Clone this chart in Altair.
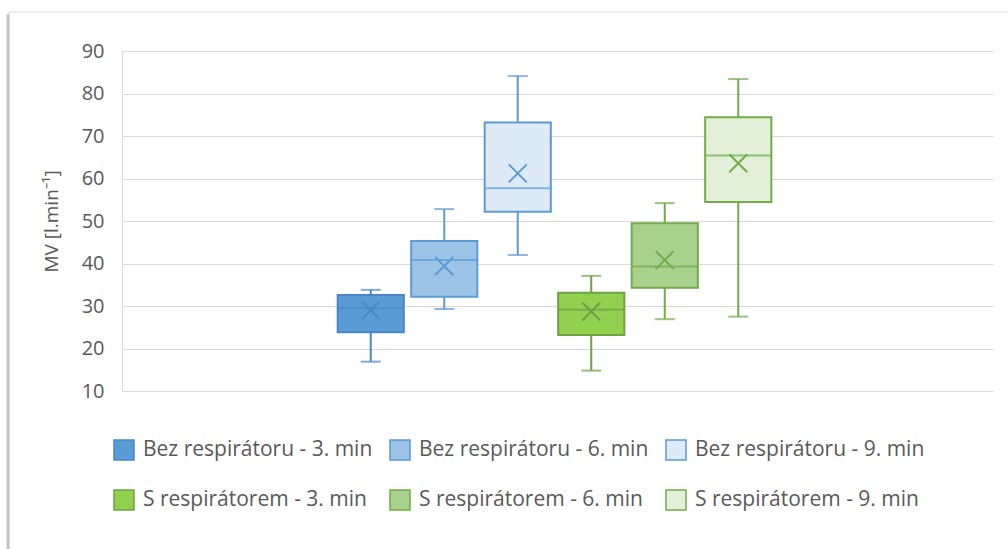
import altair as alt
import pandas as pd

# Series (box plots) and their summary statistics, MV in l/min
groups = [
    "Bez respirátoru - 3. min",
    "Bez respirátoru - 6. min",
    "Bez respirátoru - 9. min",
    "S respirátorem - 3. min",
    "S respirátorem - 6. min",
    "S respirátorem - 9. min",
]
whisker_low = [16.9, 29.3, 42.0, 14.8, 26.9, 27.5]
quart1 = [23.8, 32.2, 52.2, 23.2, 34.3, 54.5]
medians = [29.5, 40.8, 57.7, 29.1, 39.3, 65.4]
quart3 = [32.6, 45.3, 73.2, 33.1, 49.5, 74.4]
whisker_high = [33.8, 52.8, 84.1, 37.1, 54.2, 83.4]
means = [29.0, 39.4, 61.2, 28.7, 40.8, 63.6]

fills = ["#5B9BD5", "#9DC3E6", "#DEEBF7", "#92D050", "#A9D18E", "#E2F0D9"]
edges = ["#4A87C6", "#5B9BD5", "#5B9BD5", "#6FA145", "#70AD47", "#70AD47"]

y_ticks = [10, 20, 30, 40, 50, 60, 70, 80, 90]

FONT = "Open Sans"
TEXT = "#595959"

df = pd.DataFrame({
    "cat": [""] * len(groups),
    "group": groups,
    "lo": whisker_low,
    "q1": quart1,
    "med": medians,
    "q3": quart3,
    "hi": whisker_high,
    "mean": means,
    "edge": edges,
})

# One (unlabelled) category spanning the whole plot; the six boxes are
# clustered in its middle through the x-offset scale.
x_enc = alt.X("cat:N", axis=None, scale=alt.Scale(paddingInner=0, paddingOuter=0))
xo_enc = alt.XOffset(
    "group:N",
    sort=groups,
    scale=alt.Scale(domain=groups, range=[212, 653], paddingInner=0.1, paddingOuter=0.05),
)
y_scale = alt.Scale(domain=[10, 90], nice=False, zero=False)
y_axis = alt.Axis(
    values=y_ticks,
    title="MV [l.min⁻¹]",
    titleFont=FONT,
    titleFontSize=19,
    titleFontWeight="normal",
    titleColor=TEXT,
    titlePadding=20,
    labelFont=FONT,
    labelFontSize=20,
    labelColor=TEXT,
    labelPadding=18,
    ticks=False,
    domain=True,
    domainColor="#d9d9d9",
    grid=True,
    gridColor="#d9d9d9",
    gridWidth=1,
)

legend = alt.Legend(
    title=None,
    orient="none",
    direction="horizontal",
    legendX=-9,
    legendY=388,
    columns=3,
    columnPadding=14,
    rowPadding=24,
    symbolType="square",
    symbolSize=400,
    symbolStrokeWidth=1.5,
    labelFont=FONT,
    labelFontSize=21,
    labelColor=TEXT,
    labelOffset=8,
    labelLimit=400,
)

base = alt.Chart(df)

whisker = base.mark_rule(strokeWidth=2).encode(
    x=x_enc,
    xOffset=xo_enc,
    y=alt.Y("lo:Q", scale=y_scale, axis=y_axis),
    y2="hi:Q",
    stroke=alt.Stroke("edge:N", scale=None),
)

cap_low = base.mark_tick(size=20, thickness=2).encode(
    x=x_enc,
    xOffset=xo_enc,
    y=alt.Y("lo:Q", scale=y_scale),
    color=alt.Color("edge:N", scale=None),
)
cap_high = base.mark_tick(size=20, thickness=2).encode(
    x=x_enc,
    xOffset=xo_enc,
    y=alt.Y("hi:Q", scale=y_scale),
    color=alt.Color("edge:N", scale=None),
)

box = base.mark_bar(strokeWidth=2).encode(
    x=x_enc,
    xOffset=xo_enc,
    y=alt.Y("q1:Q", scale=y_scale),
    y2="q3:Q",
    fill=alt.Fill("group:N", scale=alt.Scale(domain=groups, range=fills), legend=legend),
    stroke=alt.Stroke("group:N", scale=alt.Scale(domain=groups, range=edges), legend=legend),
)

median_line = base.mark_tick(size=66, thickness=2).encode(
    x=x_enc,
    xOffset=xo_enc,
    y=alt.Y("med:Q", scale=y_scale),
    color=alt.Color("edge:N", scale=None),
)

mean_mark = base.mark_point(
    shape="M-1,-1L1,1M-1,1L1,-1", size=324, strokeWidth=2, filled=False, opacity=1
).encode(
    x=x_enc,
    xOffset=xo_enc,
    y=alt.Y("mean:Q", scale=y_scale),
    stroke=alt.Stroke("edge:N", scale=None),
)

# Chart-area border with a soft left shadow (no fill, so axes stay visible)
one = alt.Data(values=[{}])
frame = alt.Chart(one).mark_rect(fillOpacity=0, stroke="#dcdcdc", strokeWidth=1).encode(
    x=alt.value(-113), x2=alt.value(900), y=alt.value(-39), y2=alt.value(520)
)
shadow = alt.Chart(one).mark_rule(stroke="#c6c6c6", strokeWidth=3).encode(
    x=alt.value(-114), y=alt.value(-37), y2=alt.value(520)
)

chart = alt.layer(
    frame, shadow, whisker, cap_low, cap_high, box, median_line, mean_mark
).properties(
    width=871,
    height=340,
    autosize=alt.AutoSizeParams(type="none"),
    padding={"left": 122, "top": 51, "right": 15, "bottom": 158},
    background="white",
).configure_view(stroke=None)

chart.save("out.html", embed_options={"renderer": "svg", "actions": False})
